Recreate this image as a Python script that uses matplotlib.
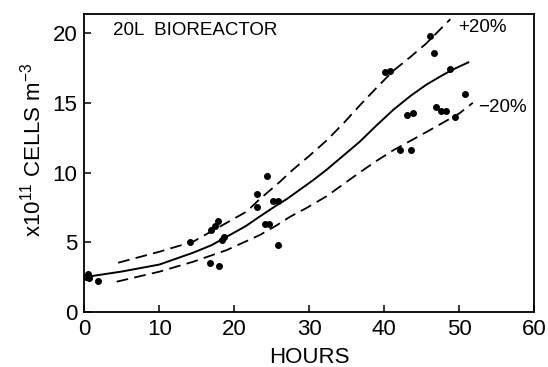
import matplotlib
matplotlib.use('Agg')
import matplotlib.pyplot as plt

plt.rcParams['font.family'] = ['Liberation Sans', 'DejaVu Sans']
plt.rcParams['mathtext.default'] = 'regular'

# measured cell counts (x10^11 cells m^-3) vs time (h)
hours = [0.23, 0.47, 0.6, 1.77, 14.1, 16.8, 16.9, 17.4, 17.8, 17.9, 18.3, 18.6,
         23.0, 23.0, 24.4, 24.1, 24.6, 25.1, 25.8, 25.8, 40.1, 40.8, 42.1, 43.0,
         43.8, 43.5, 46.1, 46.6, 46.9, 47.5, 48.2, 48.8, 49.4, 50.8]
cells = [2.5, 2.7, 2.42, 2.22, 5.02, 3.5, 5.85, 6.16, 6.5, 3.26, 5.19, 5.36,
         8.45, 7.54, 9.78, 6.33, 6.33, 7.97, 7.97, 4.78, 17.2, 17.3, 11.6, 14.1,
         14.3, 11.6, 19.8, 18.6, 14.7, 14.4, 14.4, 17.4, 13.96, 15.6]

# fitted curve and +/-20% bands
fit_x = [0.7, 5, 10, 14.5, 17, 19, 21.5, 23.4, 25.5, 27, 30.5, 32.3, 34.5,
         36.7, 39, 41.2, 43.5, 45.6, 47.5, 49, 51.2]
fit_y = [2.55, 2.9, 3.4, 4.25, 4.8, 5.4, 6.15, 6.85, 7.6, 8.1, 9.45, 10.2, 11.2,
         12.2, 13.4, 14.5, 15.5, 16.3, 16.9, 17.35, 17.9]

up_x = [4.5, 10, 14.5, 18, 21.6, 23.4, 26, 27.8, 30, 32.3, 34.5, 36.7, 39,
        41.2, 43.5, 45.6, 48.8]
up_y = [3.53, 4.32, 5.04, 6.1, 7.19, 8.1, 9.3, 10.2, 11.2, 12.3, 13.5, 14.8, 16.1,
        17.3, 18.3, 19.26, 21.0]

lo_x = [4.3, 10, 14.5, 19, 23.4, 25.6, 27.5, 29.6, 32.3, 34.5, 36.7, 39,
        41.2, 45.6, 50, 51.8]
lo_y = [2.17, 2.89, 3.6, 4.44, 5.52, 6.2, 6.85, 7.45, 8.3, 9.15, 10.0, 10.85,
        11.6, 12.9, 14.24, 15.0]

fig = plt.figure(figsize=(5.48, 3.67), dpi=100)
ax = fig.add_axes([0.154, 0.150, 0.821, 0.813])

ax.plot(fit_x, fit_y, color='black', lw=1.4)
ax.plot(up_x, up_y, color='black', lw=1.3, dashes=(6.5, 3.5))
ax.plot(lo_x, lo_y, color='black', lw=1.3, dashes=(6.5, 3.5))
ax.plot(hours, cells, 'o', color='black', ms=4, mec='black')

ax.set_xlim(0, 60)
ax.set_ylim(0, 21.4)
ax.set_xticks([0, 10, 20, 30, 40, 50, 60])
ax.set_yticks([0, 5, 10, 15, 20])
ax.tick_params(direction='in', length=5, width=1.1, labelsize=16, pad=5)
for s in ax.spines.values():
    s.set_linewidth(1.3)

ax.set_xlabel('HOURS', fontsize=16, labelpad=5)
fig.text(33 / 548, 1 - 150 / 367, r'x10$^{11}$ CELLS m$^{-3}$', rotation=90,
         ha='center', va='center', fontsize=16)

ax.text(0.063, 0.928, '20L  BIOREACTOR', transform=ax.transAxes,
        fontsize=13.5, va='baseline', ha='left')
ax.text(49.9, 20.07, '+20%', fontsize=13.5, va='baseline', ha='left')
ax.text(52.5, 14.34, '\u221220%', fontsize=13.5, va='baseline', ha='left')

fig.savefig('out.png', dpi=100)
